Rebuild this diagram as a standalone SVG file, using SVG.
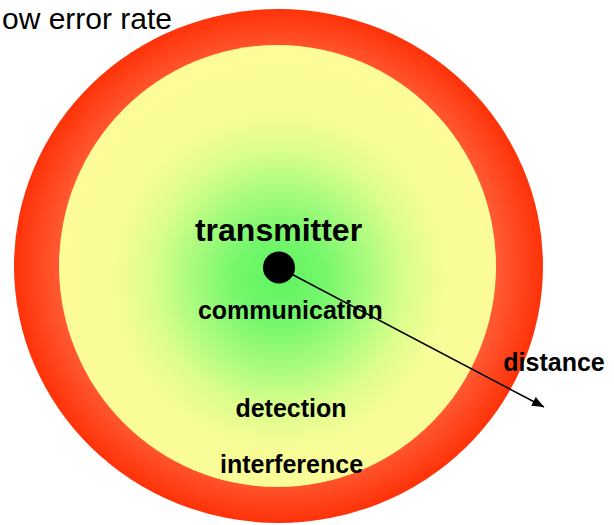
<svg xmlns="http://www.w3.org/2000/svg" width="614" height="525" viewBox="0 0 614 525">
  <defs>
    <radialGradient id="redGrad" cx="0.5" cy="0.5" r="0.5">
      <stop offset="0" stop-color="#FF8060"/>
      <stop offset="0.82" stop-color="#FF5C36"/>
      <stop offset="1" stop-color="#FF3208"/>
    </radialGradient>
    <radialGradient id="innerGrad" cx="0.505" cy="0.53" r="0.5">
      <stop offset="0" stop-color="#60F460"/>
      <stop offset="0.2" stop-color="#74F76C"/>
      <stop offset="0.4" stop-color="#A8FB7E"/>
      <stop offset="0.58" stop-color="#DAFE8C"/>
      <stop offset="0.75" stop-color="#F6FC96"/>
      <stop offset="1" stop-color="#FCFC98"/>
    </radialGradient>
    <marker id="arrow" viewBox="0 0 12 10" refX="12" refY="5" markerWidth="12" markerHeight="10" markerUnits="userSpaceOnUse" orient="auto">
      <path d="M0,0 L12,5 L0,10 Z" fill="#000"/>
    </marker>
    <style>
      .lbl { font-family: "Liberation Sans", Arial, sans-serif; font-weight: bold; font-size: 25px; fill: #000; text-anchor: middle; }
      .big { font-size: 32px; }
      .title { font-family: "Liberation Sans", Arial, sans-serif; font-size: 30px; fill: #000; }
    </style>
  </defs>

  <g id="interference-zone">
    <ellipse cx="278.5" cy="266" rx="264.5" ry="257" fill="url(#redGrad)"/>
  </g>
  <g id="detection-zone">
    <ellipse cx="277.5" cy="266" rx="218.5" ry="221" fill="url(#innerGrad)"/>
  </g>

  <g id="low-error-rate">
    <text class="title" x="2" y="29">ow error rate</text>
  </g>

  <g id="transmitter">
    <circle cx="279" cy="267.5" r="16" fill="#000"/>
    <text class="lbl big" x="278.5" y="241">transmitter</text>
  </g>

  <g id="communication">
    <text class="lbl" x="290.3" y="319">communication</text>
  </g>
  <g id="detection">
    <text class="lbl" x="291" y="417">detection</text>
  </g>
  <g id="interference">
    <text class="lbl" x="291.5" y="473">interference</text>
  </g>
  <g id="distance">
    <text class="lbl" x="554" y="371">distance</text>
  </g>

  <g id="connectors">
    <line x1="279" y1="267.5" x2="544" y2="407" stroke="#000" stroke-width="1.5" marker-end="url(#arrow)"/>
  </g>
</svg>
